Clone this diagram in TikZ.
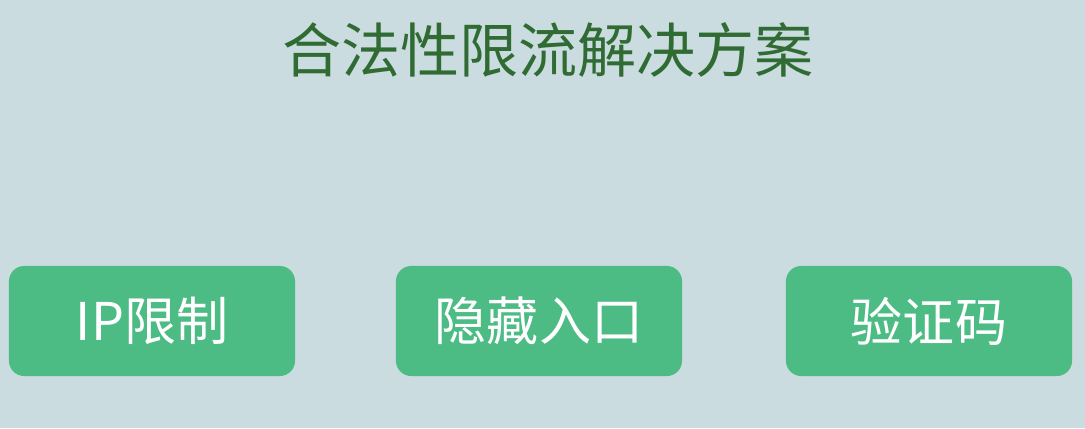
\documentclass[tikz,border=0pt]{standalone}
\usepackage{fontspec}
\newfontfamily\cjk{Noto Sans CJK SC}
\usepackage{tikz}

\definecolor{bgblue}{HTML}{CADCDF}
\definecolor{boxgreen}{HTML}{4CBB84}
\definecolor{titlegreen}{HTML}{2F6B33}

\tikzset{
  method/.style={draw=none, fill=boxgreen, rounded corners=0.38cm,
    minimum width=7.15cm, minimum height=2.75cm, text=white,
    font=\cjk\fontsize{37}{40}\selectfont}
}

\begin{document}
\begin{tikzpicture}[x=0.025cm, y=-0.025cm]
\fill[bgblue] (0,0) rectangle (1085,428);
\useasboundingbox (0,0) rectangle (1085,428);

\node[text=titlegreen, font=\cjk\fontsize{42}{46}\selectfont] (title) at (548, 50) {合法性限流解决方案};

\node[method] (ip) at (152, 321) {IP限制};
\node[method] (hide) at (539, 321) {隐藏入口};
\node[method] (captcha) at (929, 321) {验证码};

\end{tikzpicture}
\end{document}
